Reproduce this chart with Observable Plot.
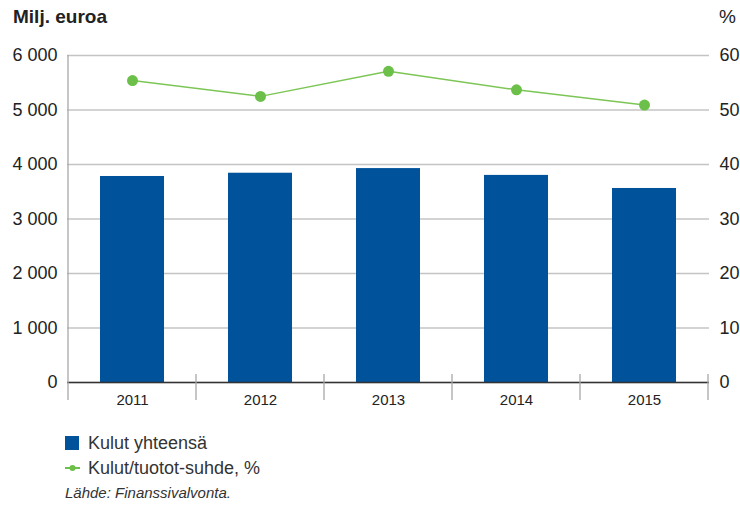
<!DOCTYPE html>
<html><head><meta charset="utf-8">
<script src="https://cdn.jsdelivr.net/npm/d3@7"></script>
<script src="https://cdn.jsdelivr.net/npm/@observablehq/plot@0.6"></script>
<style>
body{margin:0;background:#fff;font-family:"Liberation Sans",Arial,sans-serif;color:#222;}
#wrap{position:relative;width:740px;height:509px;overflow:hidden;}
.head{position:absolute;top:0;left:0;width:740px;height:40px;}
.title{position:absolute;left:13px;top:6px;font-size:19px;font-weight:bold;color:#222;}
.pct{position:absolute;left:719px;top:6px;font-size:19px;color:#222;}
#chart{position:absolute;top:40px;left:0;}
.leg{position:absolute;left:65px;font-size:18px;color:#333;line-height:20px;}
.sw{display:inline-block;vertical-align:middle;position:relative;top:-1px;}
.cap{position:absolute;left:65px;top:484px;font-size:15px;font-style:italic;color:#333;}
</style></head><body>
<div id="wrap">
  <div class="head"><span class="title">Milj. euroa</span><span class="pct">%</span></div>
  <div id="chart"></div>
  <div class="leg" style="top:433px"><svg class="sw" width="16" height="16" style="margin-right:7px"><rect x="0" y="1" width="14" height="14" fill="#00529b"/></svg>Kulut yhteensä</div>
  <div class="leg" style="top:458px"><svg class="sw" width="16" height="16" style="margin-right:7px"><line x1="0" x2="15" y1="8" y2="8" stroke="#6cc04a" stroke-width="2"/><circle cx="7.5" cy="8" r="3" fill="#6cc04a"/></svg>Kulut/tuotot-suhde, %</div>
  <div class="cap">Lähde: Finanssivalvonta.</div>
</div>
<script>
const years = ["2011", "2012", "2013", "2014", "2015"];
const costs = [3780, 3840, 3925, 3800, 3560];
const ratio = [55.4, 52.5, 57.1, 53.7, 50.9];
const leftTicks = [0, 1000, 2000, 3000, 4000, 5000, 6000];
const rightTicks = [0, 10, 20, 30, 40, 50, 60];

const data = years.map((y, i) => ({year: y, cost: costs[i], ratio: ratio[i]}));
const fmt = d => d === 0 ? "0" : d3.format(",")(d).replace(/,/g, " ");
const SCALE = 6000 / 60;

const plot = Plot.plot({
  width: 740,
  height: 380,
  marginTop: 15,
  marginBottom: 38,
  marginLeft: 67,
  marginRight: 31,
  style: {fontFamily: "'Liberation Sans', Arial, sans-serif", color: "#222", background: "transparent"},
  x: {domain: years, paddingInner: 0.5, paddingOuter: 0.25, axis: null},
  y: {domain: [0, 6000], axis: null},
  marks: [
    Plot.gridY(leftTicks, {stroke: "#c4c4c4", strokeWidth: 1.5, strokeOpacity: 1}),
    Plot.barY(data, {x: "year", y: "cost", fill: "#00529b"}),
    Plot.ruleY([0], {stroke: "#333", strokeWidth: 1.5}),
    Plot.line(data, {x: "year", y: d => d.ratio * SCALE, stroke: "#7cc655", strokeWidth: 1.5}),
    Plot.dot(data, {x: "year", y: d => d.ratio * SCALE, r: 5.5, fill: "#6cc04a", stroke: "none"}),
    Plot.axisY(leftTicks, {anchor: "left", label: null, tickSize: 0, tickPadding: 10, tickFormat: fmt, fontSize: 18}),
    Plot.axisY(rightTicks.map(v => v * SCALE), {anchor: "right", label: null, tickSize: 0, tickPadding: 10, tickFormat: d => String(d / SCALE), fontSize: 18}),
    Plot.axisX(years, {anchor: "bottom", label: null, tickSize: 0, tickPadding: 12, fontSize: 15})
  ]
});

// band boundary ticks and left axis line, derived from the plot's own scales
const xs = plot.scale("x");
const ys = plot.scale("y");
const y0 = ys.apply(0);
const yTop = ys.apply(6000);
const half = xs.step / 2;
const bounds = years.map(y => xs.apply(y) + xs.bandwidth / 2 - half).concat([xs.apply(years[years.length - 1]) + xs.bandwidth / 2 + half]);
const svg = d3.select(plot);
const g = svg.append("g").attr("stroke", "#a8a8a8").attr("stroke-width", 1.3);
bounds.forEach((bx, i) => {
  g.append("line").attr("x1", bx).attr("x2", bx)
    .attr("y1", i === 0 ? yTop : y0 - 8).attr("y2", y0 + 18);
});
document.getElementById("chart").appendChild(plot);
</script>
</body></html>
